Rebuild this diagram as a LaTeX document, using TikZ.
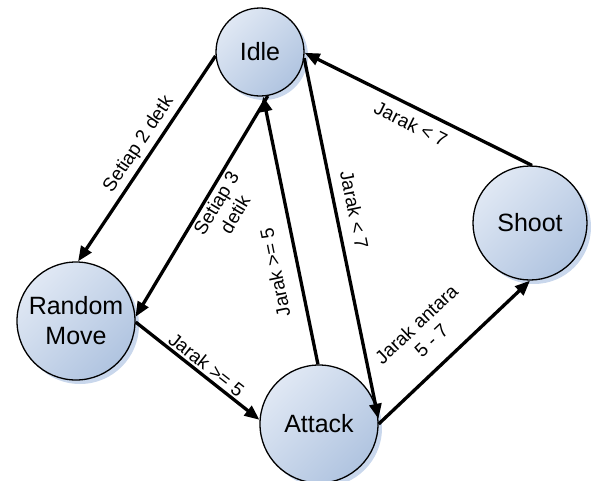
\documentclass[tikz,border=0pt]{standalone}
\usepackage{fontspec}
\setmainfont{Liberation Sans}
\usepackage{xcolor}
\usetikzlibrary{arrows.meta,shadows}
\definecolor{statelight}{RGB}{224,232,244}
\definecolor{statedark}{RGB}{176,196,224}
\definecolor{stateshadow}{RGB}{201,215,236}

\begin{document}
\begin{tikzpicture}[x=1pt,y=-1pt,
  state/.style={circle, draw=black, line width=1.3pt, top color=statelight, bottom color=statedark, shading angle=45,
    drop shadow={shadow xshift=4pt, shadow yshift=-4pt, fill=stateshadow, opacity=1},
    align=center, inner sep=0pt, font=\fontsize{25}{30}\selectfont},
  trans/.style={line width=3.3pt, -{Triangle[length=15pt,width=12pt]}},
  lbl/.style={sloped, font=\fontsize{19}{22}\selectfont, align=center}]
\useasboundingbox (0,0) rectangle (595,480);
% States
\node[state, minimum size=88pt] (idle) at (260,52) {Idle};
\node[state, minimum size=118pt] (rand) at (76,321) {Random\\Move};
\node[state, minimum size=118pt] (attack) at (319,424) {Attack};
\node[state, minimum size=114pt] (shoot) at (530,223) {Shoot};

% Transitions
\draw[trans] (idle.185) -- node[lbl, above, pos=0.47, inner sep=4pt] {Setiap 2 detk} (rand.88);
\draw[trans] (idle.280) -- node[lbl, below, pos=0.46, inner sep=2pt] {Setiap 3\\detik} (rand.4);
\draw[trans] (attack.91) -- node[lbl, allow upside down, above, pos=0.36, inner sep=15pt] {Jarak >= 5} (idle.274);
\draw[trans] (idle.-8) -- node[lbl, above, pos=0.43, inner sep=10pt] {Jarak < 7} (attack.5);
\draw[trans] (shoot.88) -- node[lbl, below, pos=0.5, inner sep=8pt] {Jarak < 7} (idle.-1);
\draw[trans] (rand.-1) -- node[lbl, above, pos=0.52, inner sep=2pt] {Jarak >= 5} (attack.176);
\draw[trans] (attack.0) -- node[lbl, above, pos=0.46, inner sep=16pt] {Jarak antara\\5 - 7} (shoot.-90);
\end{tikzpicture}
\end{document}
